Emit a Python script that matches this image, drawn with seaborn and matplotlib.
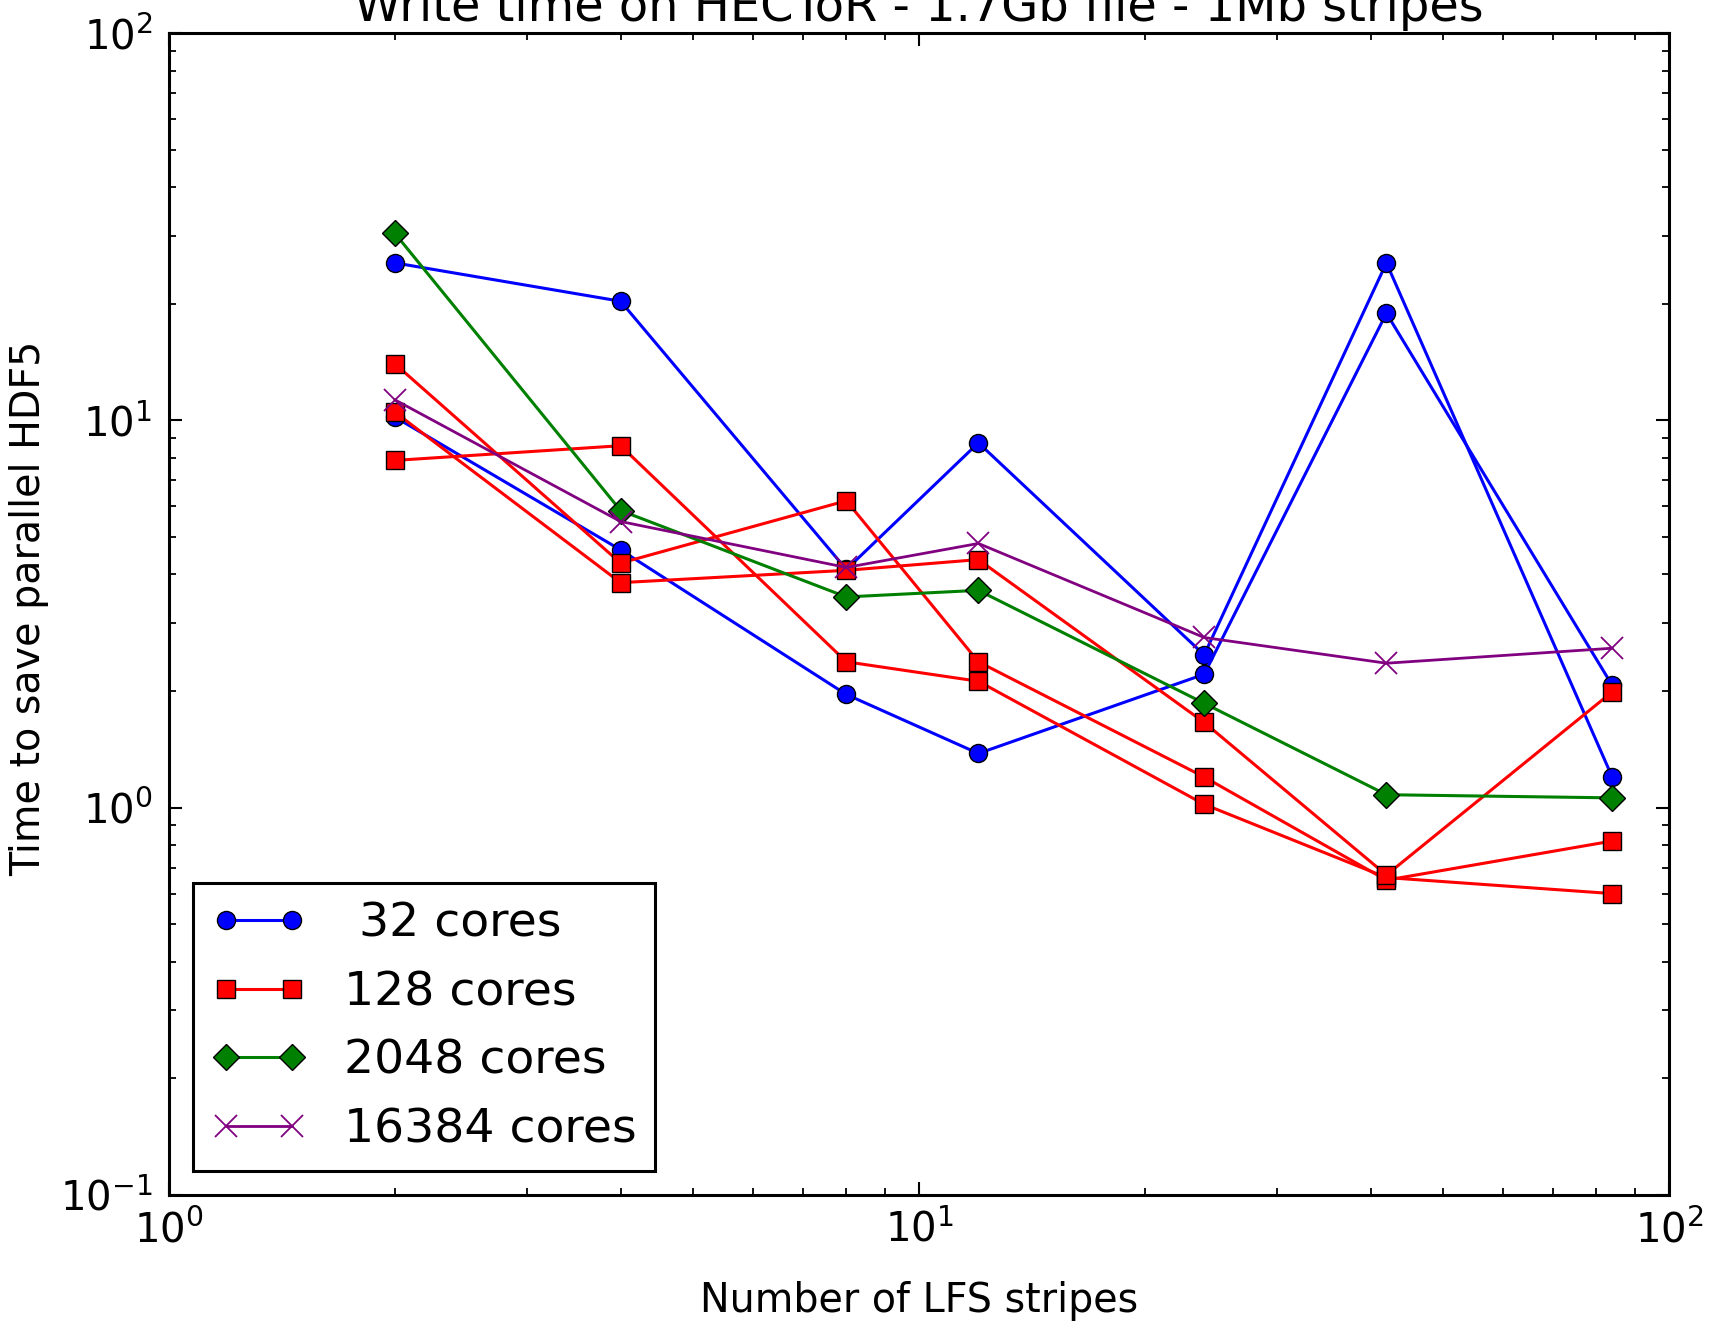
import pandas as pd
import numpy as np
import matplotlib
matplotlib.use('Agg')
import matplotlib.pyplot as plt
import seaborn as sns

# ---------------------------------------------------------------- data
stripes = [2, 4, 8, 12, 24, 42, 84]

# 32 cores (two runs)
t32_a = [25.5, 20.3, 4.12, 8.75, 2.48, 25.5, 1.20]
t32_b = [10.2, 4.63, 1.96, 1.38, 2.21, 18.9, 2.07]

# 128 cores (three runs)
t128_a = [7.88, 8.6, 2.38, 2.12, 1.02, 0.66, 0.60]
t128_b = [14.0, 4.28, 6.2, 2.38, 1.20, 0.65, 0.82]
t128_c = [10.5, 3.81, 4.1, 4.37, 1.66, 0.67, 1.99]

# 2048 cores
t2048 = [30.4, 5.85, 3.50, 3.64, 1.86, 1.08, 1.06]

# 16384 cores
t16384 = [11.3, 5.48, 4.17, 4.81, 2.75, 2.36, 2.58]

series = [
    (" 32 cores", [t32_a, t32_b], 'blue', 'o'),
    ("128 cores", [t128_a, t128_b, t128_c], 'red', 's'),
    ("2048 cores", [t2048], 'green', 'D'),
    ("16384 cores", [t16384], 'purple', 'x'),
]

# ---------------------------------------------------------------- style
sns.set_style('ticks', {'xtick.direction': 'in', 'ytick.direction': 'in'})
plt.rcParams['font.family'] = ['DejaVu Sans']
plt.rcParams.update({
    'xtick.top': True, 'ytick.right': True,
    'xtick.major.size': 9.5, 'ytick.major.size': 9.5,
    'xtick.minor.size': 5, 'ytick.minor.size': 5,
    'xtick.major.width': 1.5, 'ytick.major.width': 1.5,
    'xtick.minor.width': 1.3, 'ytick.minor.width': 1.3,
    'xtick.major.pad': 11, 'ytick.major.pad': 12,
    'axes.edgecolor': 'black', 'axes.linewidth': 2.2,
    'xtick.color': 'black', 'ytick.color': 'black',
    'text.color': 'black', 'axes.labelcolor': 'black',
    'axes.unicode_minus': False,
    'mathtext.default': 'regular',
})

fig = plt.figure(figsize=(17.13, 13.21), dpi=100)
ax = fig.add_axes([0.0987, 0.0954, 0.8756, 0.8796])

for label, runs, color, marker in series:
    for i, vals in enumerate(runs):
        df = pd.DataFrame({'stripes': stripes, 'time': vals})
        kw = dict(color=color, marker=marker, markersize=13, linewidth=2.2,
                  markeredgecolor='black', markeredgewidth=1.0)
        if marker == 'x':
            kw.update(markeredgecolor=color, markeredgewidth=1.3, markersize=16,
                      linewidth=2.0)
        if marker == 'D':
            kw.update(markersize=13.5)
        sns.lineplot(data=df, x='stripes', y='time', ax=ax, sort=False,
                     label=label if i == 0 else None, **kw)

ax.set_xscale('log')
ax.set_yscale('log')
ax.set_xlim(1, 100)
ax.set_ylim(0.1, 100)

ax.tick_params(axis='both', which='both', labelsize=29)
ax.set_xlabel("Number of LFS stripes", fontsize=28.5, labelpad=21)
ax.set_ylabel("Time to save parallel HDF5", fontsize=28.5)
ax.yaxis.set_label_coords(-0.080, 0.505)
ax.set_title("Write time on HECToR - 1.7Gb file - 1Mb stripes", fontsize=34.5, pad=9)

leg = ax.legend(loc='lower left', numpoints=2, fontsize=34, fancybox=False,
                framealpha=1, edgecolor='black', borderaxespad=0.5,
                handlelength=2.0, labelspacing=0.5)
leg.get_frame().set_linewidth(2.2)

fig.savefig('out.png', dpi=100)
